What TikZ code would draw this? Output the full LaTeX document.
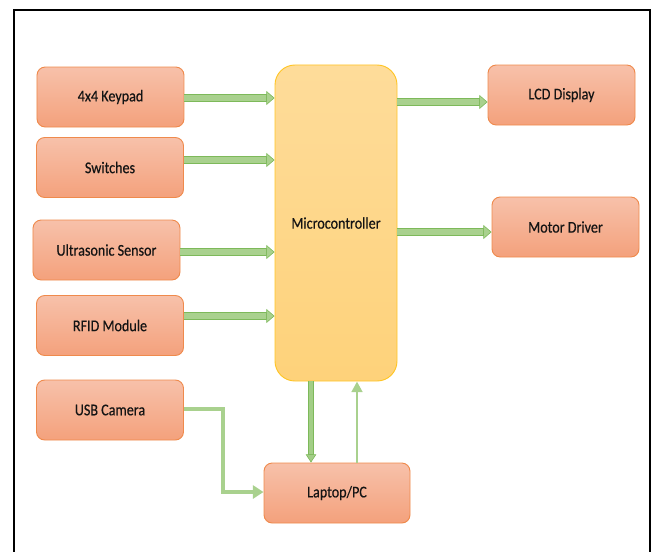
\documentclass[tikz,border=0pt]{standalone}
\usepackage{fontspec}
\setmainfont{Carlito}[FakeStretch=0.86, FakeBold=0.4]
\usetikzlibrary{arrows.meta}

\definecolor{boxtop}{HTML}{F7C1AA}
\definecolor{boxbot}{HTML}{F4A17C}
\definecolor{boxline}{HTML}{EF8A4C}
\definecolor{mcutop}{HTML}{FEDC9A}
\definecolor{mcubot}{HTML}{FED27A}
\definecolor{mculine}{HTML}{FFC526}
\definecolor{arrowfill}{HTML}{A9D18E}
\definecolor{arrowline}{HTML}{7DB95A}

\begin{document}
\begin{tikzpicture}[x=0.03cm, y=-0.03cm,
    block/.style={draw=boxline, line width=0.8pt, rounded corners=7pt,
      top color=boxtop, bottom color=boxbot, minimum width=4.41cm, minimum height=1.8cm,
      font=\fontsize{14}{16}\selectfont, text=black!92},
    blockarrow/.style={arrowfill, line width=4.4pt,
      -{Triangle[length=7pt, width=12pt, fill=arrowfill, color=arrowline, line width=0.5pt]},
      preaction={draw=arrowline, line width=6pt, -, shorten >=6.5pt}},
    downarrow/.style={arrowfill!85!arrowline, line width=3pt,
      -{Triangle[length=7pt, width=9pt, fill=arrowfill!85!arrowline, color=arrowline, line width=0.5pt]},
      preaction={draw=arrowline, line width=4.4pt, -, shorten >=6.5pt}},
    feedline/.style={arrowfill, line width=3pt, -{Triangle[length=9pt, width=11pt]}}]

  \useasboundingbox (0,0) rectangle (655,551);
  \draw[line width=1.7pt] (14,560) -- (14,10) -- (650,10) -- (650,560);

  % inputs on the left
  \node[block] (keypad) at (110.5,97) {4x4 Keypad};
  \node[block] (switches) at (110,167.5) {Switches};
  \node[block] (ultra) at (106.5,250) {Ultrasonic Sensor};
  \node[block] (rfid) at (110,325.5) {RFID Module};
  \node[block] (usbcam) at (110,410) {USB Camera};

  % controller
  \node[draw=mculine, line width=0.8pt, rounded corners=17pt, top color=mcutop, bottom color=mcubot,
    minimum width=3.66cm, minimum height=9.48cm, font=\fontsize{14}{16}\selectfont, text=black!92]
    (mcu) at (336,223) {Microcontroller};

  % outputs
  \node[block] (lcd) at (561.5,95) {LCD Display};
  \node[block] (motor) at (565.5,227) {Motor Driver};
  \node[block, minimum width=4.38cm] (laptop) at (337,493) {Laptop/PC};

  \draw[blockarrow] (keypad.east |- 0,98) -- (mcu.west |- 0,98);
  \draw[blockarrow] (switches.east |- 0,160) -- (mcu.west |- 0,160);
  \draw[blockarrow] (ultra.east |- 0,252) -- (mcu.west |- 0,252);
  \draw[blockarrow] (rfid.east |- 0,316) -- (mcu.west |- 0,316);
  \draw[blockarrow] (mcu.east |- 0,102) -- (lcd.west |- 0,102);
  \draw[blockarrow] (mcu.east |- 0,232) -- (motor.west |- 0,232);

  \draw[downarrow] (mcu.south -| 311,0) -- (laptop.north -| 311,0);
  \draw[arrowfill, line width=2.4pt, -{Triangle[length=9pt, width=9pt]}] (laptop.north -| 357,0) -- (mcu.south -| 357,0);
  \draw[feedline] (usbcam.east |- 0,409) -| (223,450) |- (laptop.west |- 0,492);
\end{tikzpicture}
\end{document}
